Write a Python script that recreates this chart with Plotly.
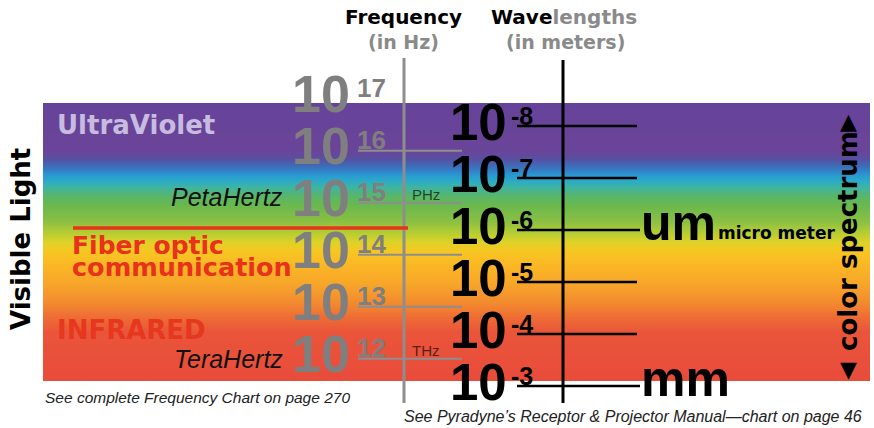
import numpy as np
import plotly.graph_objects as go

# ---------------- data ----------------
freq_exponents = [17, 16, 15, 14, 13, 12]            # frequency labels 10^n Hz
wavelength_exponents = [-8, -7, -6, -5, -4, -3]      # wavelength labels 10^n m
freq_unit_labels = {15: "PHz", 12: "THz"}
wavelength_unit_labels = {-6: "um", -3: "mm"}
wavelength_unit_notes = {-6: "micro meter"}
SPEED_OF_LIGHT = 2.998e8                              # m/s, lambda = c / f

# spectrum gradient: band row (px from top of figure) -> colour
spectrum_rows = [103, 150, 158, 166, 174, 181, 188, 196, 205, 222, 233, 242,
                 250, 262, 285, 302, 318, 332, 381]
spectrum_colors = ["#66439a", "#6a4499", "#5a4ea0", "#3d6db9", "#2b92d2", "#2aaac8",
                   "#3fb4a2", "#58b66c", "#68b84e", "#8cc043", "#b6cd33", "#dcd228",
                   "#f5c823", "#fbba24", "#f7a42a", "#f38b2f", "#ee6c34", "#ea553a",
                   "#e84c3b"]

# ---------------- layout constants ----------------
W, H = 874, 428
PX_PER_DECADE = 52.0
Y_TOP = -8 - 126 / PX_PER_DECADE       # log10(wavelength) at the top edge


def ly(px):
    """log10(wavelength) value at a given pixel row."""
    return Y_TOP + np.asarray(px, dtype=float) / PX_PER_DECADE


def off(dpx):
    return dpx / PX_PER_DECADE


BAND_TOP, BAND_BOT, BAND_L, BAND_R = 103, 381, 43, 870
GRAY = "#7f7f7f"
HEAVY = "DejaVu Sans"
DIGIT = "Liberation Sans"

fig = go.Figure()

# spectrum band as a heatmap
n = 280
edges = np.linspace(BAND_TOP, BAND_BOT, n + 1)
centers = (edges[:-1] + edges[1:]) / 2
lo, hi = spectrum_rows[0], spectrum_rows[-1]
cscale = [[(r - lo) / (hi - lo), c] for r, c in zip(spectrum_rows, spectrum_colors)]
fig.add_trace(go.Heatmap(
    x=[BAND_L, BAND_R], y=ly(edges), z=[[c] for c in centers],
    colorscale=cscale, zmin=lo, zmax=hi, showscale=False, hoverinfo="skip",
))

shapes = []
# axis lines
shapes.append(dict(type="line", x0=404, x1=404, y0=float(ly(58)), y1=float(ly(403)),
                   line=dict(color="#8e8e8e", width=3)))
shapes.append(dict(type="line", x0=563, x1=563, y0=float(ly(60)), y1=float(ly(403)),
                   line=dict(color="black", width=3)))
# red fiber-optic line
shapes.append(dict(type="line", x0=73, x1=408, y0=float(ly(228)), y1=float(ly(228)),
                   line=dict(color="#e8341c", width=3.5)))

ann = []


def text(x, y, s, size, color="black", family=HEAVY, xanchor="left", angle=0):
    ann.append(dict(x=x, y=float(y), xref="x", yref="y", text=s, showarrow=False,
                    xanchor=xanchor, yanchor="middle", textangle=angle,
                    font=dict(size=size, color=color, family=family)))


# frequency scale
for e in freq_exponents:
    yt = np.log10(SPEED_OF_LIGHT) - e
    if ly(BAND_TOP) < yt < ly(BAND_BOT):
        shapes.append(dict(type="line", x0=358, x1=462, y0=yt, y1=yt,
                           line=dict(color="#8e8e8e", width=2)))
    text(290, yt - off(5), "<b>10</b>", 52, GRAY, DIGIT)
    text(355, yt - off(10.5), "<b>%d</b>" % e, 26, GRAY, DIGIT)
    if e in freq_unit_labels:
        text(410, yt - off(8.5), freq_unit_labels[e], 15, "rgba(0,0,0,0.65)", DIGIT)

# wavelength scale
for e in wavelength_exponents:
    yt = float(e)
    shapes.append(dict(type="line", x0=517, x1=640 if e in wavelength_unit_labels else 637,
                       y0=yt, y1=yt, line=dict(color="black", width=2.5)))
    text(448, yt - off(4), "<b>10</b>", 51, "black", DIGIT)
    text(509, yt - off(10.5), "<b>-%d</b>" % abs(e), 25, "black", DIGIT)
    if e in wavelength_unit_labels:
        text(639, yt - off(7.5), "<b>%s</b>" % wavelength_unit_labels[e], 50, "black", DIGIT)
    if e in wavelength_unit_notes:
        text(716, yt + off(2.5), "<b>%s</b>" % wavelength_unit_notes[e], 17, "black", HEAVY)

# headers
text(403, ly(17), "<b>Frequency</b>", 20, "black", HEAVY, "center")
text(403, ly(42), "<b>(in Hz)</b>", 19, "#8a8a8a", HEAVY, "center")
text(564, ly(17), "<b>Wave<span style='color:#8a8a8a'>lengths</span></b>", 20, "black", HEAVY, "center")
text(565, ly(42), "<b>(in meters)</b>", 19, "#8a8a8a", HEAVY, "center")

# band labels
text(55, ly(125), "<b>UltraViolet</b>", 26, "#c7bce0", HEAVY)
text(285, ly(196.5), "<i>PetaHertz</i>", 25, "#111111", DIGIT, "right")
text(70, ly(245), "<b>Fiber optic</b>", 25, "#e8321c", HEAVY)
text(70, ly(266.5), "<b>communication</b>", 25.5, "#e8321c", HEAVY)
text(55, ly(330), "<b>INFRARED</b>", 26, "#e5381f", HEAVY)
text(285, ly(358.5), "<i>TeraHertz</i>", 25, "#111111", DIGIT, "right")

# side labels
text(21, ly(239), "<b>Visible Light</b>", 26, "black", HEAVY, "center", -90)
text(848, ly(241), "<b>color spectrum</b>", 26, "black", HEAVY, "center", -90)
text(848, ly(121), "▲", 22, "black", HEAVY, "center")
text(848, ly(369), "▼", 22, "black", HEAVY, "center")

# notes
text(43, ly(397), "<i>See complete Frequency Chart on page 270</i>", 15.5, "#222222", DIGIT)
text(402, ly(416), "<i>See Pyradyne’s Receptor &amp; Projector Manual—chart on page 46</i>",
     16, "#222222", DIGIT)

fig.update_layout(
    width=W, height=H, margin=dict(l=0, r=0, t=0, b=0),
    paper_bgcolor="white", plot_bgcolor="white", showlegend=False,
    xaxis=dict(range=[0, W], visible=False, fixedrange=True),
    yaxis=dict(range=[float(ly(H)), float(ly(0))], visible=False, fixedrange=True),
    shapes=shapes, annotations=ann,
)

fig.write_html(
    "out.html",
    config={"displayModeBar": False},
    post_script="document.body.style.margin='0';document.body.style.padding='0';"
                "document.body.style.overflow='hidden';",
)
